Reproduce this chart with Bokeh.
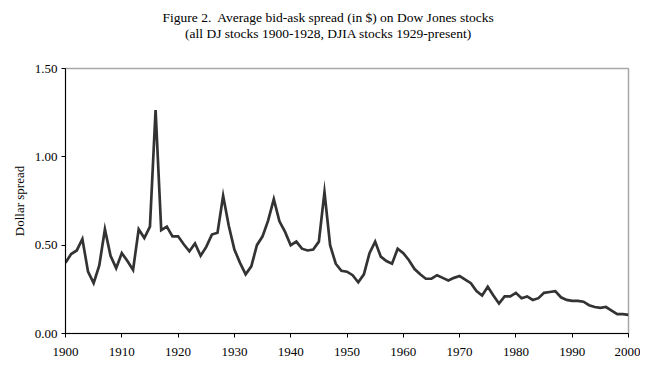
from bokeh.plotting import figure
from bokeh.layouts import column
from bokeh.models import Range1d, FixedTicker, NumeralTickFormatter, ColumnDataSource
from bokeh.core.properties import value
from bokeh.embed import file_html
from bokeh.resources import INLINE

years = list(range(1900, 2001))
spread = [
    0.40, 0.45, 0.47, 0.535, 0.35, 0.285, 0.385, 0.59, 0.44, 0.37,   # 1900-1909
    0.455, 0.41, 0.36, 0.59, 0.54, 0.605, 1.265, 0.585, 0.605, 0.55,  # 1910-1919
    0.55, 0.505, 0.465, 0.51, 0.44, 0.49, 0.56, 0.57, 0.78, 0.61,     # 1920-1929
    0.475, 0.40, 0.335, 0.38, 0.50, 0.55, 0.64, 0.76, 0.635, 0.575,   # 1930-1939
    0.50, 0.52, 0.48, 0.47, 0.475, 0.52, 0.80, 0.50, 0.395, 0.355,    # 1940-1949
    0.35, 0.33, 0.29, 0.335, 0.455, 0.52, 0.435, 0.41, 0.395, 0.48,   # 1950-1959
    0.455, 0.415, 0.365, 0.335, 0.31, 0.31, 0.33, 0.315, 0.30, 0.315, # 1960-1969
    0.325, 0.305, 0.285, 0.24, 0.215, 0.265, 0.215, 0.17, 0.21, 0.21, # 1970-1979
    0.23, 0.20, 0.21, 0.19, 0.20, 0.23, 0.235, 0.24, 0.205, 0.19,     # 1980-1989
    0.185, 0.185, 0.18, 0.16, 0.15, 0.145, 0.15, 0.13, 0.11, 0.11,    # 1990-1999
    0.105,                                                            # 2000
]
x_ticks = [1900, 1910, 1920, 1930, 1940, 1950, 1960, 1970, 1980, 1990, 2000]
y_ticks = [0.0, 0.5, 1.0, 1.5]

title_lines = ["Figure 2.\u00a0 Average bid-ask spread (in $) on Dow Jones stocks",
               "(all DJ stocks 1900-1928, DJIA stocks 1929-present)"]

FONT = "Liberation Serif"
W = 640

# ---- header (two-line title) ----
head = figure(width=W, height=60, output_backend="svg", toolbar_location=None,
              x_range=Range1d(0, W), y_range=Range1d(60, 0),
              x_axis_location=None, y_axis_location=None, min_border=0)
head.xgrid.grid_line_color = None
head.ygrid.grid_line_color = None
head.outline_line_color = None
head.text(x=[299, 299], y=[17, 33], text=title_lines, text_align="center",
          text_baseline="middle", text_font=value(FONT), text_font_size="13.5px",
          text_color="black")

# ---- main chart ----
p = figure(frame_width=563, frame_height=265, output_backend="svg", toolbar_location=None,
           x_range=Range1d(1900, 2000), y_range=Range1d(0, 1.5),
           min_border_left=65, min_border_right=12, min_border_bottom=37,
           min_border_top=8)

src = ColumnDataSource(dict(year=years, spread=spread))
p.line("year", "spread", source=src, line_color="#333333", line_width=2.7, line_join="miter")

p.xgrid.grid_line_color = None
p.ygrid.grid_line_color = None
p.outline_line_color = "#a8a8a8"
p.outline_line_width = 1.5
p.background_fill_color = "white"
p.border_fill_color = "white"

p.xaxis.ticker = FixedTicker(ticks=x_ticks)
p.yaxis.ticker = FixedTicker(ticks=y_ticks)
p.yaxis.formatter = NumeralTickFormatter(format="0.00")
for ax in (p.xaxis[0], p.yaxis[0]):
    ax.axis_line_color = "black"
    ax.axis_line_width = 1
    ax.major_tick_line_color = "black"
    ax.major_tick_in = 0
    ax.major_tick_out = 4
    ax.minor_tick_line_color = None
    ax.major_label_text_font = FONT
    ax.major_label_text_font_size = "13px"
    ax.major_label_text_color = "black"
p.xaxis.major_label_standoff = 10
p.yaxis.major_label_standoff = 4
p.yaxis.axis_label = "Dollar spread"
p.yaxis.axis_label_text_font = FONT
p.yaxis.axis_label_text_font_size = "13px"
p.yaxis.axis_label_text_font_style = "normal"
p.yaxis.axis_label_text_color = "black"
p.yaxis.axis_label_standoff = 5

layout = column(head, p, spacing=0)
open("out.html", "w").write(file_html(layout, INLINE))
